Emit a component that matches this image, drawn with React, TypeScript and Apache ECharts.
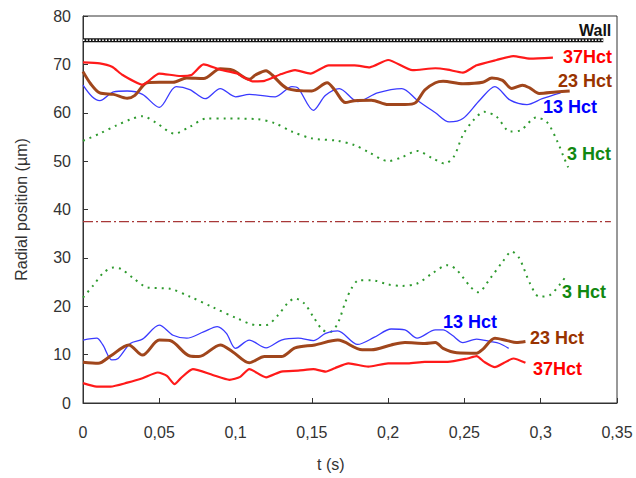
import React, { useEffect, useRef } from "react";
import * as echarts from "echarts";

// time ticks and value range
const xTicks = [0, 0.05, 0.1, 0.15, 0.2, 0.25, 0.3, 0.35];
const yTicks = [0, 10, 20, 30, 40, 50, 60, 70, 80];

const wallLine: [number, number][] = [[0, 75], [0.341, 75]];
const centerLine: [number, number][] = [[0, 37.5], [0.346, 37.5]];

const red37Top: [number, number][] = [
  [0, 70.4], [0.011, 70.2], [0.019, 69.5], [0.026, 67.8], [0.039, 65.8], [0.05, 68.1], [0.064, 67.6],
  [0.071, 67.8], [0.079, 70.0], [0.09, 68.9], [0.101, 68.1], [0.111, 66.5], [0.119, 66.6], [0.13, 68.0],
  [0.139, 68.8], [0.149, 68.1], [0.161, 69.8], [0.178, 69.8], [0.188, 69.4], [0.2, 70.9], [0.216, 68.8],
  [0.231, 69.2], [0.239, 68.9], [0.249, 68.3], [0.258, 69.8], [0.271, 70.9], [0.282, 71.7], [0.293, 71.2],
  [0.308, 71.4],
];
const brown23Top: [number, number][] = [
  [0, 68.5], [0.005, 66.0], [0.011, 64.1], [0.02, 63.8], [0.029, 63.0], [0.034, 63.6], [0.042, 66.2],
  [0.05, 66.3], [0.059, 66.3], [0.068, 67.2], [0.079, 67.1], [0.09, 69.1], [0.098, 68.8], [0.109, 66.9],
  [0.113, 67.8], [0.12, 68.7], [0.124, 67.8], [0.134, 65.0], [0.15, 64.5], [0.16, 66.2], [0.165, 64.7],
  [0.172, 62.1], [0.178, 62.5], [0.189, 62.6], [0.2, 61.7], [0.211, 61.7], [0.218, 62.1], [0.224, 64.7],
  [0.231, 66.2], [0.236, 66.5], [0.249, 66.0], [0.262, 66.3], [0.268, 67.2], [0.275, 66.7], [0.281, 65.0],
  [0.288, 65.7], [0.293, 65.1], [0.299, 64.0], [0.31, 64.3], [0.319, 64.5],
];
const blue13Top: [number, number][] = [
  [0, 65.7], [0.006, 63.3], [0.011, 62.5], [0.02, 64.3], [0.029, 64.5], [0.039, 63.8], [0.05, 61.1],
  [0.061, 65.4], [0.07, 64.8], [0.08, 62.9], [0.09, 65.0], [0.1, 63.3], [0.109, 63.8], [0.126, 63.3],
  [0.137, 65.4], [0.141, 65.1], [0.151, 60.5], [0.159, 63.6], [0.168, 65.0], [0.18, 62.3], [0.193, 64.1],
  [0.209, 65.0], [0.219, 62.6], [0.231, 60.0], [0.24, 58.1], [0.249, 58.8], [0.26, 62.6], [0.27, 65.4],
  [0.28, 62.6], [0.291, 61.7], [0.301, 62.9], [0.313, 64.1],
];
const green3Top: [number, number][] = [
  [0, 54.2], [0.011, 55.7], [0.022, 57.4], [0.031, 58.6], [0.039, 59.3], [0.048, 57.9], [0.06, 55.7],
  [0.07, 57.1], [0.081, 58.8], [0.094, 58.8], [0.114, 58.7], [0.126, 57.8], [0.137, 56.1], [0.15, 54.7],
  [0.167, 54.2], [0.178, 53.3], [0.187, 51.9], [0.2, 50.0], [0.209, 50.8], [0.219, 52.1], [0.229, 50.6],
  [0.237, 49.5], [0.243, 50.9], [0.249, 55.4], [0.256, 58.5], [0.263, 60.2], [0.271, 59.2], [0.28, 56.1],
  [0.287, 56.4], [0.297, 59.0], [0.304, 58.1], [0.311, 54.0], [0.315, 50.9], [0.318, 48.7],
];
const green3Bot: [number, number][] = [
  [0, 21.8], [0.007, 24.4], [0.013, 26.8], [0.02, 28.0], [0.025, 27.7], [0.033, 25.8], [0.042, 23.9],
  [0.057, 23.6], [0.07, 22.0], [0.085, 19.8], [0.101, 17.5], [0.114, 16.1], [0.12, 16.1], [0.128, 18.2],
  [0.134, 20.6], [0.139, 21.6], [0.145, 20.6], [0.151, 17.8], [0.157, 15.1], [0.162, 14.7], [0.167, 16.5],
  [0.172, 20.9], [0.176, 23.7], [0.181, 25.4], [0.189, 25.4], [0.2, 24.5], [0.209, 24.2], [0.219, 24.7],
  [0.229, 26.8], [0.239, 28.5], [0.245, 27.5], [0.254, 24.0], [0.259, 22.9], [0.267, 25.8], [0.275, 29.2],
  [0.281, 31.3], [0.286, 29.9], [0.293, 24.7], [0.299, 22.0], [0.306, 22.3], [0.313, 24.7], [0.317, 26.4],
];
const blue13Bot: [number, number][] = [
  [0, 13.0], [0.009, 13.4], [0.013, 12.0], [0.019, 8.9], [0.023, 9.2], [0.031, 12.3], [0.039, 13.2],
  [0.05, 16.1], [0.059, 14.0], [0.068, 13.4], [0.079, 14.7], [0.088, 15.8], [0.094, 14.4], [0.1, 11.3],
  [0.109, 13.0], [0.12, 11.4], [0.13, 13.0], [0.141, 13.4], [0.151, 12.9], [0.159, 14.4], [0.167, 14.9],
  [0.18, 12.1], [0.191, 13.6], [0.202, 15.3], [0.211, 15.1], [0.219, 13.4], [0.231, 15.1], [0.236, 15.1],
  [0.242, 14.0], [0.249, 12.5], [0.258, 13.2], [0.267, 12.7], [0.273, 12.3], [0.279, 11.3],
];
const brown23Bot: [number, number][] = [
  [0, 8.4], [0.01, 8.2], [0.018, 9.7], [0.03, 12.0], [0.039, 9.9], [0.05, 13.0], [0.057, 12.9],
  [0.07, 9.7], [0.076, 9.6], [0.09, 12.0], [0.098, 10.6], [0.109, 8.3], [0.119, 9.6], [0.13, 9.6],
  [0.139, 11.4], [0.152, 12.0], [0.167, 13.0], [0.183, 11.0], [0.189, 11.0], [0.202, 12.0], [0.211, 12.5],
  [0.224, 12.3], [0.231, 12.5], [0.236, 11.3], [0.245, 10.4], [0.258, 10.3], [0.262, 11.1], [0.27, 13.4],
  [0.278, 12.9], [0.284, 12.5], [0.29, 12.7],
];
const red37Bot: [number, number][] = [
  [0, 4.1], [0.009, 3.4], [0.018, 3.4], [0.029, 4.2], [0.039, 5.1], [0.049, 6.3], [0.055, 5.6],
  [0.06, 3.9], [0.064, 5.1], [0.072, 7.0], [0.085, 5.8], [0.096, 4.8], [0.103, 5.4], [0.109, 7.0],
  [0.12, 5.3], [0.13, 6.5], [0.141, 6.7], [0.151, 7.0], [0.159, 6.5], [0.165, 7.2], [0.174, 8.2],
  [0.187, 7.5], [0.2, 8.2], [0.213, 8.2], [0.224, 8.5], [0.239, 8.5], [0.252, 9.2], [0.258, 9.7],
  [0.263, 8.5], [0.27, 7.4], [0.276, 8.3], [0.282, 9.2], [0.29, 8.3],
];

const RED = "#ff1a1a";
const BROWN = "#a0461c";
const BLUE = "#3a3aff";
const GREEN = "#2e9a2e";

const FONT = "'Liberation Sans', Arial, sans-serif";

function line(name: string, data: [number, number][], color: string, width: number, type: any = "solid", smooth: number = 0.3) {
  return {
    name,
    type: "line",
    data,
    showSymbol: false,
    symbol: "none",
    smooth,
    lineStyle: { color, width, type },
    silent: true,
  };
}

function label(text: string, x: number, y: number, color: string, size = 18) {
  return {
    type: "text",
    left: x,
    top: y - size / 2 - 1,
    style: { text, fill: color, font: `bold ${size}px ${FONT}` },
  };
}

export default function App() {
  const ref = useRef<HTMLDivElement>(null);
  useEffect(() => {
    if (!ref.current) return;
    const chart = echarts.init(ref.current, null, { renderer: "svg" });
    chart.setOption({
      animation: false,
      backgroundColor: "#fff",
      grid: { left: 83, right: 19, top: 16, bottom: 75, show: true, borderColor: "#333", borderWidth: 1 },
      xAxis: {
        type: "value",
        min: xTicks[0],
        max: xTicks[xTicks.length - 1],
        interval: 0.05,
        axisLine: { lineStyle: { color: "#333" } },
        axisTick: { inside: true, length: 5, lineStyle: { color: "#333" } },
        splitLine: { show: false },
        axisLabel: {
          margin: 21,
          color: "#333",
          fontSize: 16,
          fontFamily: FONT,
          formatter: (v: number) => String(Number(v.toFixed(2))).replace(".", ","),
        },
      },
      yAxis: {
        type: "value",
        min: yTicks[0],
        max: yTicks[yTicks.length - 1],
        interval: 10,
        name: "Radial position (µm)",
        nameLocation: "middle",
        nameGap: 54,
        nameTextStyle: { color: "#333", fontSize: 16, fontFamily: FONT },
        axisLine: { lineStyle: { color: "#333" } },
        axisTick: { inside: true, length: 5, lineStyle: { color: "#333" } },
        splitLine: { show: false },
        axisLabel: { margin: 12, color: "#333", fontSize: 16, fontFamily: FONT },
      },
      series: [
        line("Wall", wallLine, "#111", 4, "solid", 0),
        line("Wall dots", wallLine, "#fff", 1.6, [1.6, 1.6], 0),
        line("Center", centerLine, "#a83838", 1.2, [10, 3, 2, 3], 0),
        line("3 Hct top", green3Top, GREEN, 2, [2, 5]),
        line("3 Hct bottom", green3Bot, GREEN, 2, [2, 5]),
        line("13 Hct top", blue13Top, BLUE, 1.3),
        line("13 Hct bottom", blue13Bot, BLUE, 1.3),
        line("23 Hct top", brown23Top, BROWN, 3),
        line("23 Hct bottom", brown23Bot, BROWN, 3),
        line("37Hct top", red37Top, RED, 2.2, "solid", 0.2),
        line("37Hct bottom", red37Bot, RED, 2.2, "solid", 0.2),
      ],
      graphic: [
        { type: "text", left: 579, top: 22, style: { text: "Wall", fill: "#111", font: `bold 16px ${FONT}` } },
        label("37Hct", 563, 58, "#ff0000"),
        label("23 Hct", 558, 82, "#993300"),
        label("13 Hct", 543, 108, "#0000ff"),
        label("3 Hct", 567, 155, "#118811"),
        label("3 Hct", 562, 293, "#118811"),
        label("13 Hct", 443, 323, "#0000ff"),
        label("23 Hct", 530, 339, "#993300"),
        label("37Hct", 533, 370, "#ff0000"),
        { type: "text", left: 317, top: 456, style: { text: "t (s)", fill: "#333", font: `16px ${FONT}` } },
      ],
    });
    return () => chart.dispose();
  }, []);
  return <div ref={ref} style={{ position: "fixed", left: 0, top: 0, width: 636, height: 478 }} />;
}
